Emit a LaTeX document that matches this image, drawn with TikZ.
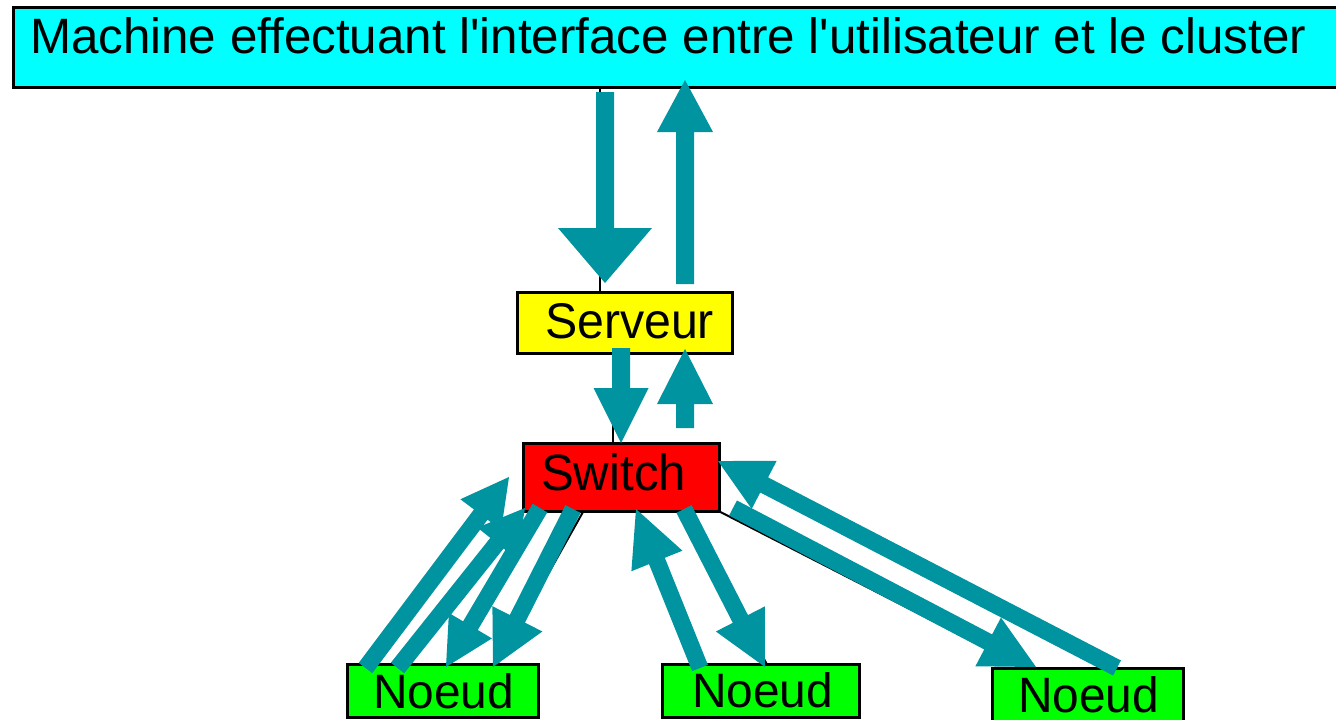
\documentclass[tikz,border=0pt]{standalone}
\usepackage{graphicx}
\usepackage{fontspec}
\setmainfont{Liberation Sans}[Ligatures=TeXOff]
\usetikzlibrary{calc}

\definecolor{flowteal}{RGB}{0,147,160}
\definecolor{boxcyan}{RGB}{0,255,255}
\definecolor{boxyellow}{RGB}{255,255,0}
\definecolor{boxred}{RGB}{255,0,0}
\definecolor{boxgreen}{RGB}{0,255,0}

% text squeezed to a given width and height above the baseline
\newcommand{\fitlabel}[3]{\resizebox{#1}{#2}{#3}}

% wide block arrow: tail, tip, half shaft width, half head width, head length
\newcommand{\fatarrow}[5]{%
  \coordinate (fa-base) at ($(#2)!#5!(#1)$);
  \fill[flow]
    ($(#1)!#3!90:(#2)$) -- ($(fa-base)!#3!90:(#2)$) --
    ($(fa-base)!#4!90:(#2)$) -- (#2) --
    ($(fa-base)!#4!-90:(#2)$) -- ($(fa-base)!#3!-90:(#2)$) --
    ($(#1)!#3!-90:(#2)$) -- cycle;
}

\tikzset{
  box/.style={draw=black, line width=3pt, inner sep=0pt, outer sep=0pt, anchor=north west},
  boxlabel/.style={anchor=base west, inner sep=0pt, outer sep=0pt, text=black},
  link/.style={draw=black, line width=2pt},
  flow/.style={fill=flowteal}
}

\begin{document}
\begin{tikzpicture}[x=1pt, y=-1pt]
\useasboundingbox (0,0) rectangle (1336,720);
\fill[white] (0,0) rectangle (1336,720);
\clip (0,0) rectangle (1336,720);

% boxes
\node[box, fill=boxcyan, minimum width=1327pt, minimum height=79.5pt] (top) at (13,7.5) {};
\node[box, fill=boxyellow, minimum width=215pt, minimum height=61pt] (serveur) at (517,292) {};
\node[box, fill=boxred, minimum width=196.5pt, minimum height=68pt] (switch) at (523,443.5) {};
\node[box, fill=boxgreen, minimum width=191pt, minimum height=53pt] (noeud1) at (347,664.5) {};
\node[box, fill=boxgreen, minimum width=197pt, minimum height=53pt] (noeud2) at (662,664.5) {};
\node[box, fill=boxgreen, minimum width=190.7pt, minimum height=56pt] (noeud3) at (992.3,668) {};

% thin links between the boxes
\draw[link] ([xshift=-25pt]serveur.north) -- ([xshift=-25pt]serveur.north |- top.south);
\draw[link] ([xshift=-8.5pt]switch.north) -- ([xshift=-8.5pt]switch.north |- serveur.south);
\draw[link] ([xshift=-38pt]switch.south) -- ([xshift=54.5pt]noeud1.north);
\draw[link] ([xshift=62pt]switch.south) -- ([xshift=6.5pt]noeud2.north);
\draw[link] (switch.south east) -- ([xshift=-62.6pt]noeud3.north);

% labels
\node[boxlabel] (toptext) at (30,53) {\fitlabel{1276pt}{36pt}{Machine effectuant l'interface entre l'utilisateur et le cluster}};
\node[boxlabel] (servtext) at (545,338) {\fitlabel{169pt}{35pt}{Serveur}};
\node[boxlabel] (switchtext) at (541,490) {\fitlabel{145pt}{37pt}{Switch}};
\node[boxlabel] (n1text) at (373,708) {\fitlabel{141pt}{35pt}{Noeud}};
\node[boxlabel] (n2text) at (692,707) {\fitlabel{141pt}{35pt}{Noeud}};
\node[boxlabel] (n3text) at (1018,712) {\fitlabel{141pt}{36pt}{Noeud}};

% arrow end points
\coordinate (a1t) at (605,92);    \coordinate (a1p) at (605,283);
\coordinate (a2t) at (685,284);   \coordinate (a2p) at (685,80);
\coordinate (a3t) at (621,348);   \coordinate (a3p) at (621,443);
\coordinate (a4t) at (685,428);   \coordinate (a4p) at (685,349);
\coordinate (b1t) at (365.5,668); \coordinate (b1p) at (509,477);
\coordinate (b2t) at (397.5,668); \coordinate (b2p) at (525,508);
\coordinate (b3t) at (540,508);   \coordinate (b3p) at (446,667);
\coordinate (b4t) at (573,509);   \coordinate (b4p) at (493,667);
\coordinate (c1t) at (700,668);   \coordinate (c1p) at (636,509);
\coordinate (c2t) at (684,509);   \coordinate (c2p) at (765,667);
\coordinate (d1t) at (1117,668);  \coordinate (d1p) at (718,461);
\coordinate (d2t) at (733,508);   \coordinate (d2p) at (1036,667);

% data flow arrows
\fatarrow{a1t}{a1p}{9pt}{47pt}{55pt}
\fatarrow{a2t}{a2p}{9pt}{28pt}{52pt}
\fatarrow{a3t}{a3p}{9pt}{27.5pt}{55pt}
\fatarrow{a4t}{a4p}{9pt}{28pt}{55pt}
\fatarrow{b1t}{b1p}{8.5pt}{25.5pt}{47pt}
\fatarrow{b2t}{b2p}{8.5pt}{25pt}{45pt}
\fatarrow{b3t}{b3p}{8.5pt}{25pt}{48pt}
\fatarrow{b4t}{b4p}{8.5pt}{28pt}{54pt}
\fatarrow{c1t}{c1p}{8.5pt}{27.5pt}{56pt}
\fatarrow{c2t}{c2p}{8.5pt}{27.5pt}{54pt}
\fatarrow{d1t}{d1p}{8.5pt}{27pt}{52pt}
\fatarrow{d2t}{d2p}{8.5pt}{27.5pt}{54pt}
\end{tikzpicture}
\end{document}
